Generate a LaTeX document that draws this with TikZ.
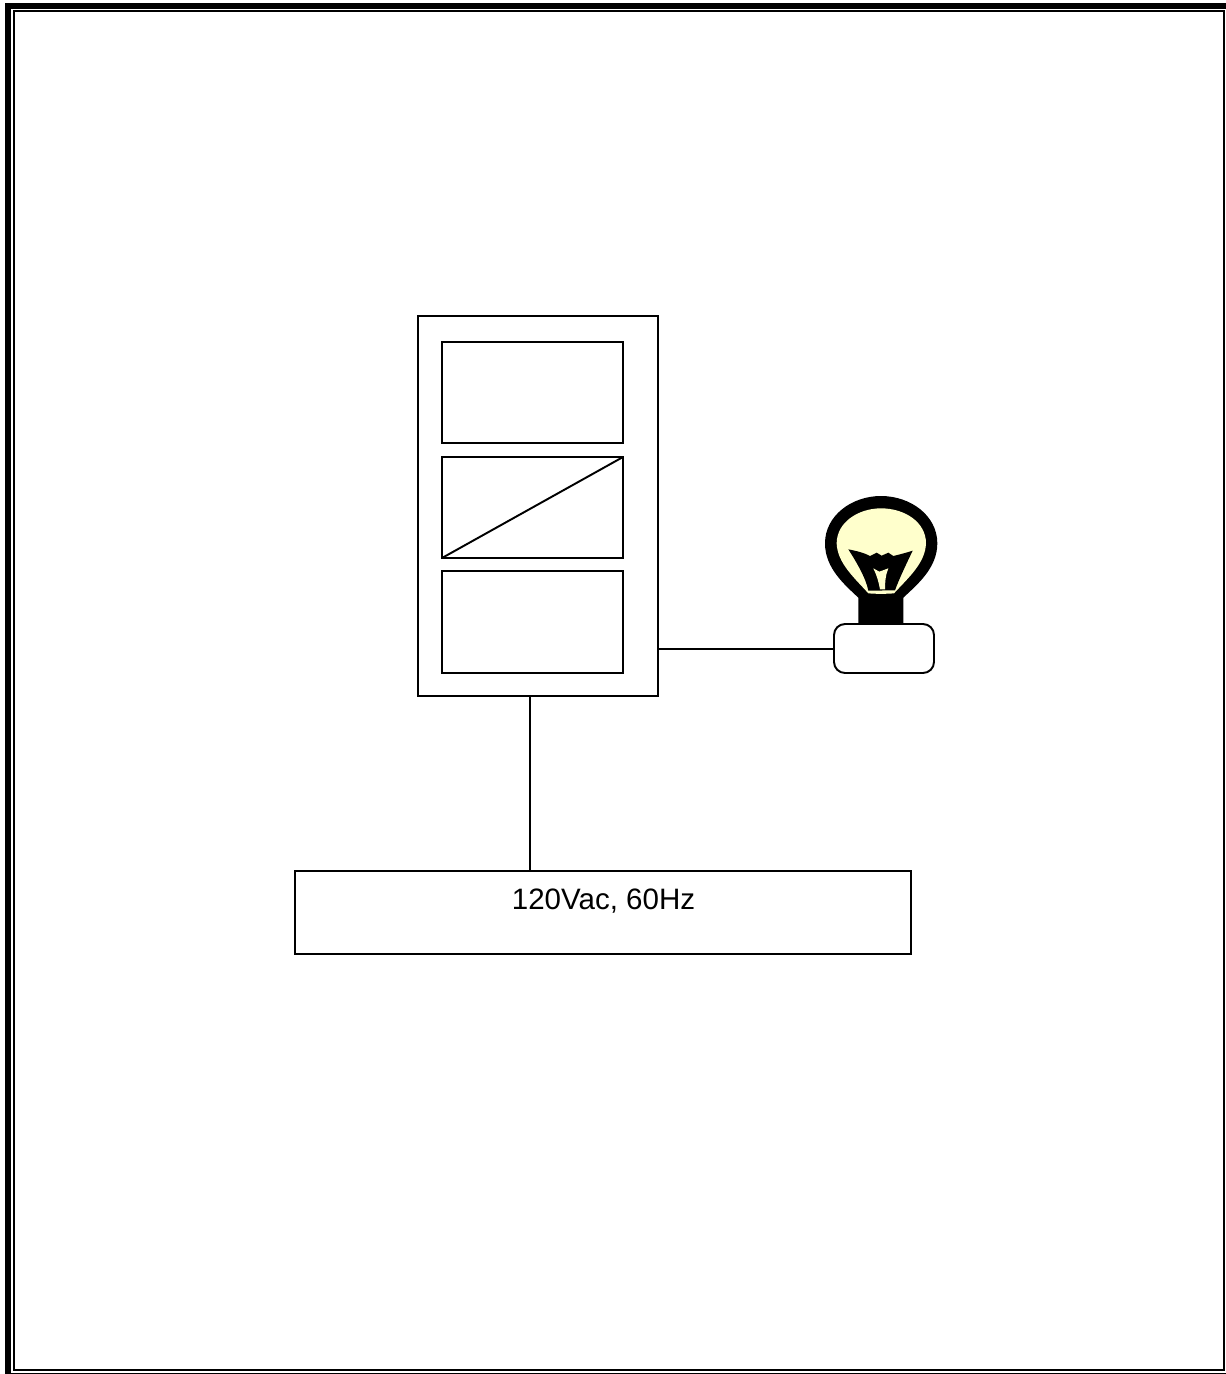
\documentclass[tikz,border=0pt]{standalone}
\usepackage{fontspec}
\setmainfont{Liberation Sans}
\definecolor{bulbcream}{RGB}{255,255,204}
\tikzset{
  block/.style={draw, line width=1.1pt, inner sep=0pt, outer sep=0pt},
  wire/.style={line width=1.1pt}
}
\begin{document}
\begin{tikzpicture}[x=0.02cm, y=-0.02cm]
    \useasboundingbox (0,0) rectangle (1226,1374);
    % Frame
    \draw[line width=3.4pt] (8,6) -- (1226,6);
    \draw[line width=3.4pt] (8,3) -- (8,1374);
    \draw[line width=1.1pt] (14,11) rectangle (1224,1370);
    \draw[line width=1.1pt] (11,1373.5) -- (1226,1373.5);
    % Nodes
    \node[block, minimum width=4.8cm, minimum height=7.6cm] (relay) at (538,506) {};
    \node[block, minimum width=3.62cm, minimum height=2.02cm] (input) at (532.5,392.5) {};
    \node[block, minimum width=3.62cm, minimum height=2.02cm] (convert) at (532.5,507.5) {};
    \node[block, minimum width=3.62cm, minimum height=2.04cm] (output) at (532.5,622) {};
    \node[block, minimum width=12.32cm, minimum height=1.66cm] (supply) at (603,912.5) {};
    \node[font=\fontsize{16.8pt}{20pt}\selectfont] (supplytext) at (603.5,901.3) {120Vac, 60Hz};
    % Bulb
    \begin{scope}[shift={(810,485)}, x=0.00667cm, y=-0.00667cm]
        \fill (145,418) -- (145,338) .. controls (105,300) and (45,250) .. (45,175)
            .. controls (45,92) and (125,33) .. (213,33)
            .. controls (302,33) and (382,92) .. (382,175)
            .. controls (382,250) and (320,300) .. (280,338) -- (280,418) -- cycle;
        \fill[bulbcream] (175,325) .. controls (135,280) and (82,235) .. (80,175)
            .. controls (80,112) and (145,70) .. (213,70)
            .. controls (285,70) and (348,112) .. (348,175)
            .. controls (346,235) and (293,280) .. (252,325)
            .. controls (225,327) and (200,327) .. (175,325) -- cycle;
        \fill (115,193) .. controls (140,198) and (162,203) .. (180,213)
            -- (200,203) -- (215,212) -- (235,203) -- (250,213)
            .. controls (270,208) and (290,203) .. (308,197)
            .. controls (290,235) and (268,280) .. (255,316)
            -- (175,317) .. controls (168,280) and (140,232) .. (115,193) -- cycle;
        \fill[bulbcream] (190,250) -- (208,260) -- (235,250)
            .. controls (226,270) and (225,295) .. (225,313)
            -- (210,313) .. controls (206,290) and (200,270) .. (190,250) -- cycle;
    \end{scope}
    \node[block, fill=white, rounded corners=0.22cm, minimum width=2cm, minimum height=0.98cm] (lamp) at (884,648.5) {};
    % Edges
    \coordinate (tap) at (530,696);
    \coordinate (drive) at (658,649);
    \draw[wire] (convert.south west) -- (convert.north east);
    \draw[wire] (drive) -- (drive -| lamp.west);
    \draw[wire] (tap) -- (tap |- supply.north);
\end{tikzpicture}
\end{document}
